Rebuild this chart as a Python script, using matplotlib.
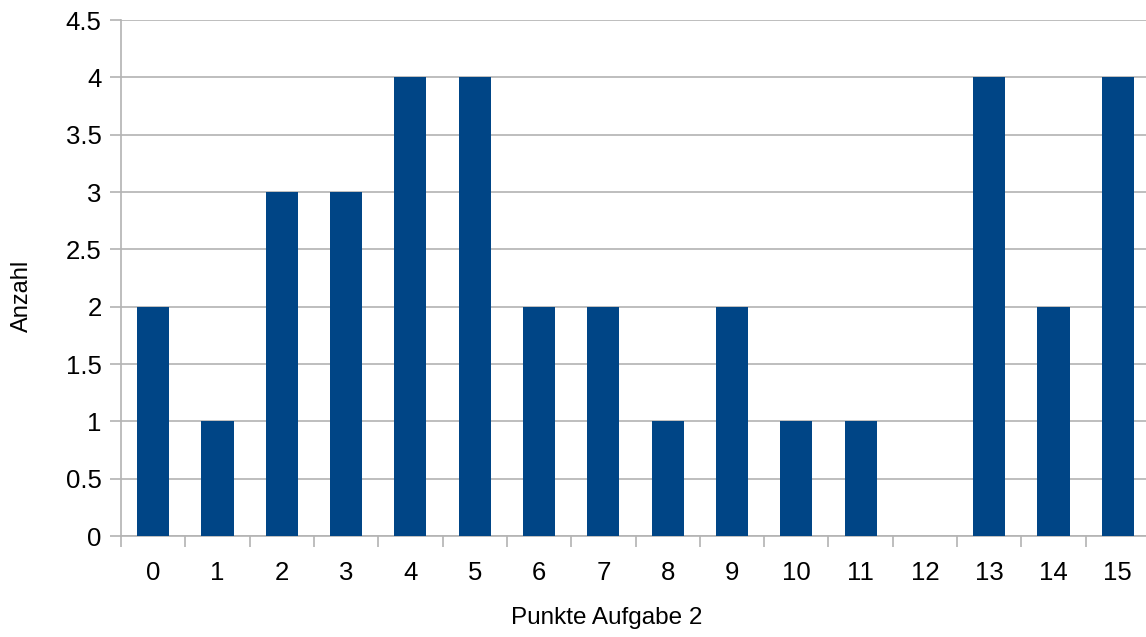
import matplotlib
matplotlib.use("Agg")
import matplotlib.pyplot as plt
import numpy as np

categories = [str(i) for i in range(16)]
values = [2, 1, 3, 3, 4, 4, 2, 2, 1, 2, 1, 1, 0, 4, 2, 4]
yticks = [0, 0.5, 1, 1.5, 2, 2.5, 3, 3.5, 4, 4.5]
ytick_labels = ["0", "0.5", "1", "1.5", "2", "2.5", "3", "3.5", "4", "4.5"]

plt.rcParams['font.family'] = ['Liberation Sans', 'DejaVu Sans']

W, H = 1146, 637
fig = plt.figure(figsize=(W / 100, H / 100), dpi=100)
ax = fig.add_axes([121 / W, (H - 536) / H, (1150 - 121) / W, (536 - 20) / H])

x = np.arange(len(categories))
ax.bar(x, values, width=0.5, color="#004586", zorder=3)

ax.set_xlim(-0.5, len(categories) - 0.5)
ax.set_ylim(0, 4.5)
ax.set_yticks(yticks)
ax.set_yticklabels(ytick_labels)
ax.set_xticks(x)
ax.set_xticklabels(categories)
ax.set_xticks(np.arange(-0.5, len(categories), 1), minor=True)

grid_c = "#b3b3b3"
ax.yaxis.grid(True, color=grid_c, linewidth=1.2, zorder=0)
for s in ["top", "right"]:
    ax.spines[s].set_visible(False)
ax.spines["left"].set_color(grid_c)
ax.spines["bottom"].set_color(grid_c)
ax.spines["left"].set_linewidth(1.2)
ax.spines["bottom"].set_linewidth(1.2)

ax.tick_params(axis="y", length=8, width=1.2, color=grid_c, labelsize=18.5, pad=6)
ax.tick_params(axis="x", which="major", length=0, labelsize=18.5, pad=18)
ax.tick_params(axis="x", which="minor", length=8, width=1.2, color=grid_c)

xl = ax.set_xlabel("Punkte Aufgabe 2", fontsize=17.5, va="center", ha="center")
ax.xaxis.set_label_coords((607 - 121) / (1150 - 121), -(618 - 536) / (536 - 20))
yl = ax.set_ylabel("Anzahl", fontsize=17, va="center", ha="center")
ax.yaxis.set_label_coords(-(121 - 22) / (1150 - 121), (536 - 296) / (536 - 20))

fig.savefig("out.png", dpi=100)
